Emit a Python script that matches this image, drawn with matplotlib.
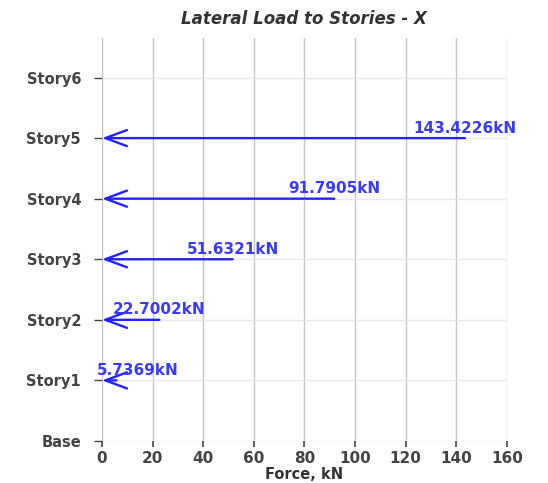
import matplotlib.pyplot as plt

stories = ['Base', 'Story1', 'Story2', 'Story3', 'Story4', 'Story5', 'Story6']
story_level = [0, 1, 2, 3, 4, 5, 6]
loaded_stories = [1, 2, 3, 4, 5]
forces = [5.7369, 22.7002, 51.6321, 91.7905, 143.4226]
x_ticks = [0, 20, 40, 60, 80, 100, 120, 140, 160]

plt.rcParams['font.family'] = ['DejaVu Sans']

fig = plt.figure(figsize=(5.48, 4.83), dpi=100)
ax = fig.add_axes([0.186, 0.087, 0.739, 0.834])

labels = []
for lvl, f in zip(loaded_stories, forces):
    ax.annotate('', xy=(0, lvl), xytext=(f, lvl),
                arrowprops=dict(arrowstyle='->,head_length=0.78,head_width=0.29',
                                color='#2323ff', lw=1.7, mutation_scale=20,
                                shrinkA=0, shrinkB=0))
    t = ax.text(f, lvl + 0.165, f'{f:.4f}kN', ha='center', va='center',
                color='#3a3aff', fontsize=11, fontweight='bold', clip_on=False)
    labels.append(t)

ax.set_xlim(0, 160)
ax.set_ylim(0, 6.65)
ax.set_xticks(x_ticks)
ax.set_yticks(story_level)
ax.set_yticklabels(stories)

ax.grid(axis='x', color='#c4c4c4', lw=1)
ax.grid(axis='y', color='#e8e8e8', lw=1)
ax.set_axisbelow(True)
for s in ax.spines.values():
    s.set_visible(False)

ax.tick_params(axis='y', length=6, width=1, color='#444444', labelsize=10.5, pad=9)
ax.tick_params(axis='x', length=4, width=1.2, color='#444444', labelsize=11, pad=3)
for lbl in ax.get_yticklabels() + ax.get_xticklabels():
    lbl.set_fontweight('bold')
    lbl.set_color('#444444')

ax.set_xlabel('Force, kN', fontsize=10.5, fontweight='bold', color='#333333', labelpad=1)
ax.set_title('Lateral Load to Stories - X', fontsize=12, fontweight='bold',
             fontstyle='italic', color='#333333', pad=10)

# keep value labels from running past the left edge of the plot
fig.canvas.draw()
r = fig.canvas.get_renderer()
ax_left = ax.get_window_extent(r).x0
for t in labels:
    bb = t.get_window_extent(r)
    if bb.x0 < ax_left - 5:
        t.set_ha('left')
        x0 = ax.transData.inverted().transform((ax_left - 5, 0))[0]
        t.set_x(x0)

fig.savefig('out.png', dpi=100)
